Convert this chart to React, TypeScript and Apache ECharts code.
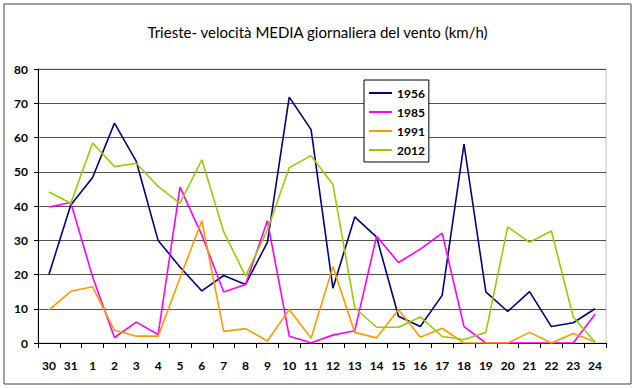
import React, { useEffect, useRef } from "react";
import * as echarts from "echarts";

const categories = ["30","31","1","2","3","4","5","6","7","8","9","10","11","12","13","14","15","16","17","18","19","20","21","22","23","24"];
const s1956 = [20, 40.3, 48.3, 64.2, 53, 29.9, 22.2, 15.2, 19.7, 17.1, 29.4, 71.8, 62.3, 16, 36.8, 30.9, 7.8, 4.8, 13.9, 58.1, 14.9, 9.2, 15, 4.8, 5.9, 10];
const s1985 = [39.7, 41, 19.3, 1.6, 6.1, 2.5, 45.5, 31.5, 14.9, 17.1, 35.7, 2, 0.1, 2.3, 3.6, 31.2, 23.5, 27.4, 32.1, 4.8, 0, 0, 0, 0, 0, 8.4];
const s1991 = [9.6, 15.1, 16.4, 3.7, 2, 2, 19, 35.7, 3.4, 4.2, 0.6, 9.8, 1.4, 22.3, 3.1, 1.5, 9.7, 1.7, 4.3, 0, 0, 0, 3.1, 0, 2.8, 0.4];
const s2012 = [44.1, 40.8, 58.4, 51.5, 52.5, 45.7, 40.8, 53.5, 32.5, 19.5, 33, 51.2, 54.7, 46.3, 10.3, 4.6, 4.6, 7.6, 1.9, 1, 3.1, 33.9, 29.4, 32.7, 7.6, 0.2];
const yTicks = { min: 0, max: 80, interval: 10 };
const titleText = "Trieste- velocità MEDIA giornaliera del vento (km/h)";

const FONT = "Lato";

export default function App() {
  const ref = useRef<HTMLDivElement>(null);
  useEffect(() => {
    if (!ref.current) return;
    const chart = echarts.init(ref.current, undefined, { renderer: "svg" });
    const mk = (name: string, data: number[], color: string) => ({
      name,
      type: "line",
      data,
      symbol: "none",
      lineStyle: { color, width: 1.6 },
      itemStyle: { color },
    });
    chart.setOption({
      animation: false,
      backgroundColor: "#ffffff",
      title: {
        text: titleText,
        left: "center",
        top: 19,
        textStyle: { fontFamily: FONT, fontSize: 15, fontWeight: "normal", color: "#000" },
      },
      graphic: [
        {
          type: "rect",
          shape: { x: 4, y: 4, width: 627, height: 380 },
          style: { fill: "none", stroke: "#404040", lineWidth: 1 },
          silent: true,
        },
      ],
      grid: {
        left: 38,
        top: 69,
        right: 29,
        bottom: 45,
        show: true,
        borderColor: "#c0c0c0",
        borderWidth: 1,
        backgroundColor: "transparent",
      },
      legend: {
        orient: "vertical",
        left: 364,
        top: 80,
        padding: [6, 4, 5, 5],
        icon: "rect",
        itemWidth: 23,
        itemHeight: 2,
        itemGap: 5,
        borderColor: "#000",
        borderWidth: 1,
        backgroundColor: "#fff",
        textStyle: { fontFamily: FONT, fontSize: 12, fontWeight: "bold", color: "#000", lineHeight: 14 },
        data: ["1956", "1985", "1991", "2012"],
      },
      xAxis: {
        type: "category",
        data: categories,
        boundaryGap: true,
        axisLine: { lineStyle: { color: "#000", width: 1 } },
        axisTick: { show: true, alignWithLabel: false, length: 5, lineStyle: { color: "#000" } },
        axisLabel: { fontFamily: FONT, fontSize: 12, fontWeight: "bold", color: "#000", margin: 16, interval: 0 },
        splitLine: { show: false },
      },
      yAxis: {
        type: "value",
        min: yTicks.min,
        max: yTicks.max,
        interval: yTicks.interval,
        axisLine: { show: true, lineStyle: { color: "#000", width: 1 } },
        axisTick: { show: true, length: 4, lineStyle: { color: "#000" } },
        axisLabel: { fontFamily: FONT, fontSize: 12, fontWeight: "bold", color: "#000", margin: 10 },
        splitLine: { show: true, lineStyle: { color: "#505050", width: 1 } },
      },
      series: [
        mk("1956", s1956, "#000080"),
        mk("1985", s1985, "#ff00ff"),
        mk("1991", s1991, "#ff9900"),
        mk("2012", s2012, "#99cc00"),
      ],
    });
    return () => chart.dispose();
  }, []);
  return (
    <div
      ref={ref}
      style={{ position: "fixed", left: 0, top: 0, width: 635, height: 388, background: "#fff" }}
    />
  );
}
